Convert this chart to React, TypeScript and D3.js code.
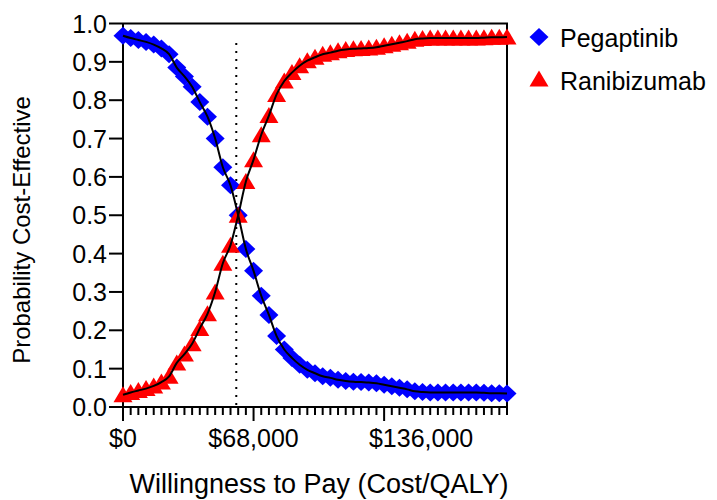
import * as d3 from 'd3'

// willingness to pay, $4,000 steps
const wtp = d3.range(0, 200001, 4000)
const pegaptinib = [
	0.968, 0.962, 0.957, 0.952, 0.945, 0.935, 0.92, 0.885, 0.862, 0.835, 0.795, 0.757, 0.7, 0.625, 0.578, 0.5, 0.412,
	0.355, 0.29, 0.24, 0.185, 0.15, 0.128, 0.11, 0.097, 0.088, 0.08, 0.076, 0.071, 0.068, 0.066, 0.065, 0.064, 0.062,
	0.058, 0.054, 0.05, 0.046, 0.041, 0.039, 0.038, 0.038, 0.038, 0.038, 0.038, 0.038, 0.038, 0.037, 0.036, 0.036, 0.035,
]
const ranibizumab = [
	0.032, 0.038, 0.043, 0.048, 0.055, 0.065, 0.08, 0.115, 0.138, 0.165, 0.205, 0.243, 0.3, 0.375, 0.422, 0.5, 0.588,
	0.645, 0.71, 0.76, 0.815, 0.85, 0.872, 0.89, 0.903, 0.912, 0.92, 0.924, 0.929, 0.932, 0.934, 0.935, 0.936, 0.938,
	0.942, 0.946, 0.95, 0.954, 0.959, 0.961, 0.962, 0.962, 0.962, 0.962, 0.962, 0.962, 0.962, 0.963, 0.964, 0.964, 0.965,
]
const yTicks = [0, 0.1, 0.2, 0.3, 0.4, 0.5, 0.6, 0.7, 0.8, 0.9, 1.0]
const xMajor = [0, 68000, 136000]
const threshold = 59000

const width = 717
const height = 500
const left = 123
const right = 507
const top = 23.5
const bottom = 407
const font = 'Liberation Sans, Arial, sans-serif'

const diamond = 'M0,-9L9.5,0L0,9L-9.5,0Z'
const triangle = 'M0,-8.5L9.5,7.5L-9.5,7.5Z'

// the last tick label sits right of its tick in the original
const labelShift = [0, 0, 37]

const App = () => {
	const x = d3.scaleLinear().domain([0, 200000]).range([left, right])
	const y = d3.scaleLinear().domain([0, 1]).range([bottom, top])

	const line = d3
		.line<number>()
		.curve(d3.curveMonotoneX)
		.x((_, i) => x(wtp[i]))
		.y((d) => y(d))

	const fmt = (v: number) => '$' + d3.format(',')(v)

	return (
		<svg width={width} height={height} style={{ position: 'absolute', left: 0, top: 0 }} fontFamily={font}>
			{/* frame */}
			<path d={`M${left},${top}H${right}V${bottom}`} fill="none" stroke="#000" strokeWidth={2} />
			<line x1={left} x2={left} y1={top} y2={bottom + 14} stroke="#000" strokeWidth={2} />
			<line x1={left} x2={right} y1={bottom} y2={bottom} stroke="#000" strokeWidth={2} />

			{yTicks.map((t) => (
				<g key={t}>
					<line x1={left - 14} x2={left} y1={y(t)} y2={y(t)} stroke="#000" strokeWidth={2} />
					<text x={left - 16} y={y(t)} dy="0.36em" textAnchor="end" fontSize={25} fill="#000">
						{t.toFixed(1)}
					</text>
				</g>
			))}

			{wtp.map((v) => (
				<line
					key={v}
					x1={x(v)}
					x2={x(v)}
					y1={bottom}
					y2={bottom + (xMajor.includes(v) ? 14 : 8)}
					stroke="#000"
					strokeWidth={2}
				/>
			))}
			{xMajor.map((v, i) => (
				<text key={v} x={x(v) + labelShift[i]} y={447} textAnchor="middle" fontSize={25} fill="#000">
					{fmt(v)}
				</text>
			))}

			<text x={319} y={493} textAnchor="middle" fontSize={27} fill="#000">
				Willingness to Pay (Cost/QALY)
			</text>
			<text transform="translate(30,230) rotate(-90)" textAnchor="middle" fontSize={24} fill="#000">
				Probability Cost-Effective
			</text>

			<line
				x1={x(threshold)}
				x2={x(threshold)}
				y1={43}
				y2={bottom}
				stroke="#000"
				strokeWidth={2}
				strokeDasharray="2,6"
			/>

			{pegaptinib.map((v, i) => (
				<path key={'p' + i} d={diamond} transform={`translate(${x(wtp[i])},${y(v)})`} fill="#0000ff" />
			))}
			{ranibizumab.map((v, i) => (
				<path key={'r' + i} d={triangle} transform={`translate(${x(wtp[i])},${y(v)})`} fill="#ff0000" />
			))}
			<path d={line(pegaptinib) ?? ''} fill="none" stroke="#000" strokeWidth={2} />
			<path d={line(ranibizumab) ?? ''} fill="none" stroke="#000" strokeWidth={2} />

			{/* legend */}
			<path d={diamond} transform="translate(539,37)" fill="#0000ff" />
			<text x={560} y={47} fontSize={25} fill="#000">
				Pegaptinib
			</text>
			<path d={triangle} transform="translate(539,79)" fill="#ff0000" />
			<text x={560} y={90} fontSize={25} fill="#000">
				Ranibizumab
			</text>
		</svg>
	)
}

export default App
